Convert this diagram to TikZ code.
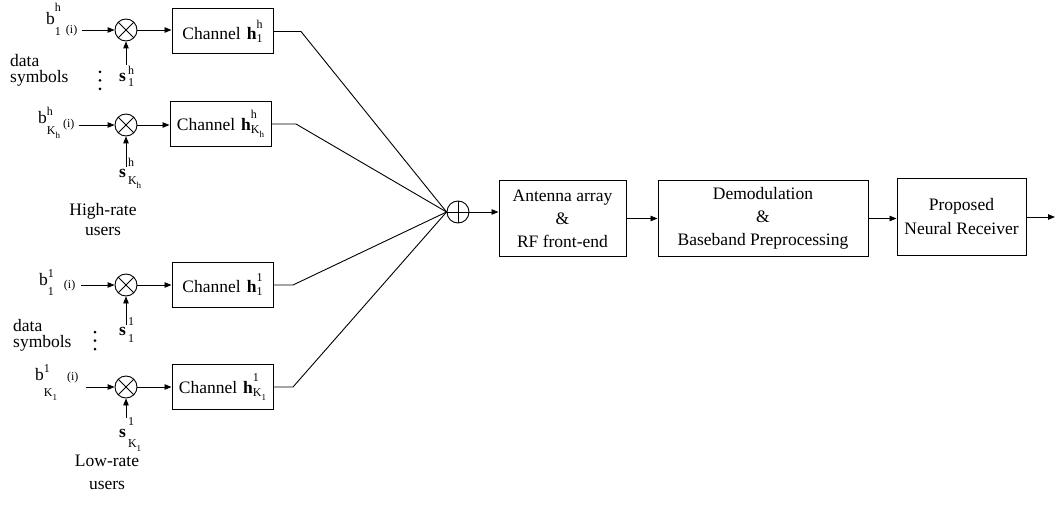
\documentclass[tikz,border=0pt]{standalone}
\usepackage{fontspec}
\setmainfont{Liberation Serif}
\usetikzlibrary{arrows.meta,calc}
\newcommand{\scrf}{\fontsize{12}{12}\selectfont}
\newcommand{\sscrf}{\fontsize{9}{9}\selectfont}
\newcommand{\supsubx}[5]{#1\rlap{\raisebox{#4}{\scrf #2}}\raisebox{#5}{\scrf #3}}
\newcommand{\Kh}{K\raisebox{-4pt}{\sscrf h}}
\newcommand{\Kl}{K\raisebox{-4pt}{\sscrf 1}}
\begin{document}
\begin{tikzpicture}[x=1pt,y=-1pt,
  every node/.style={font=\fontsize{17.5}{21}\selectfont, inner sep=0pt},
  conn/.style={line width=0.9pt},
  arr/.style={conn,-{Triangle[length=7pt,width=5.5pt]}},
  chbox/.style={draw,line width=1pt,minimum width=101pt,minimum height=45pt},
  bigbox/.style={draw,line width=1pt,align=center,font=\fontsize{17.5}{23}\selectfont},
  mult/.style={circle,draw,line width=0.9pt,minimum size=22pt,
    path picture={\draw[line width=0.9pt] (path picture bounding box.north west)--(path picture bounding box.south east)
      (path picture bounding box.north east)--(path picture bounding box.south west);}},
  summ/.style={circle,draw,line width=0.9pt,minimum size=22pt,
    path picture={\draw[line width=0.9pt] (path picture bounding box.north)--(path picture bounding box.south)
      (path picture bounding box.east)--(path picture bounding box.west);}},
  dotm/.style={circle,fill,minimum size=3pt}
]
\useasboundingbox (0,0) rectangle (1058,508);

% multipliers
\node[mult] (o1) at (126,30) {};
\node[mult] (o2) at (126,125) {};
\node[mult] (o3) at (126,285) {};
\node[mult] (o4) at (126,387) {};

% channel boxes
\node[chbox] (ch1) at (222.5,31.5) {Channel\hspace{6pt}\supsubx{\textbf{h}}{h}{1}{11pt}{-3pt}};
\node[chbox] (ch2) at (220.5,124) {Channel\hspace{6pt}\supsubx{\textbf{h}}{h}{\Kh}{12pt}{-3pt}};
\node[chbox] (ch3) at (222.5,285) {Channel\hspace{6pt}\supsubx{\textbf{h}}{1}{1}{11pt}{-3pt}};
\node[chbox] (ch4) at (222.5,387) {Channel\hspace{6pt}\supsubx{\textbf{h}}{1}{\Kl}{12pt}{-3pt}};

% data inputs
\node[anchor=base west] (b1) at (46,25) {\supsubx{b}{h}{1}{13pt}{-11pt}\hspace{5pt}\raisebox{-8.5pt}{\scrf(i)}};
\node[anchor=base west] (b2) at (38,124) {\supsubx{b}{h}{\Kh}{8pt}{-11pt}\hspace{3pt}\raisebox{-3.5pt}{\scrf(i)}};
\node[anchor=base west] (b3) at (39,285) {\supsubx{b}{1}{1}{8pt}{-10pt}\hspace{10pt}\raisebox{-3.5pt}{\scrf(i)}};
\node[anchor=base west] (b4) at (35,380) {\supsubx{b}{1}{\Kl}{8pt}{-16pt}\hspace{10pt}{\scrf(i)}};

\draw[arr] ($(b1.east |- o1.west)+(5,0)$) -- (o1.west);
\draw[arr] ($(b2.east |- o2.west)+(4,0)$) -- (o2.west);
\draw[arr] ($(b3.east |- o3.west)+(6,0)$) -- (o3.west);
\draw[arr] ($(b4.east |- o4.west)+(7,0)$) -- (o4.west);

% spreading codes
\node[anchor=base west] (s1) at (119,82) {\textbf{s}\kern2pt\supsubx{}{h}{1}{7pt}{-5pt}};
\node[anchor=base west] (s2) at (119,178) {\textbf{s}\kern2pt\supsubx{}{h}{\Kh}{11pt}{-7pt}};
\node[anchor=base west] (s3) at (119,335) {\textbf{s}\kern2pt\supsubx{}{1}{1}{10pt}{-7pt}};
\node[anchor=base west] (s4) at (119,437) {\textbf{s}\kern2pt\supsubx{}{1}{\Kl}{12pt}{-10pt}};
\coordinate (t1) at (126,65);
\coordinate (t2) at (126,167);
\coordinate (t3) at (126,325);
\coordinate (t4) at (126,418);
\draw[arr] (t1) -- (o1.south);
\draw[arr] (t2) -- (o2.south);
\draw[arr] (t3) -- (o3.south);
\draw[arr] (t4) -- (o4.south);

% multiplier -> channel
\draw[arr] (o1.east) -- (o1.east -| ch1.west);
\draw[arr] (o2.east) -- (o2.east -| ch2.west);
\draw[arr] (o3.east) -- (o3.east -| ch3.west);
\draw[arr] (o4.east) -- (o4.east -| ch4.west);

% labels
\node[dotm] (d1) at (100,72) {};
\node[dotm] (d2) at (100,80.5) {};
\node[dotm] (d3) at (100,89) {};
\node[dotm] (d4) at (95,332) {};
\node[dotm] (d5) at (95,340.5) {};
\node[dotm] (d6) at (95,349) {};
\node[anchor=north west,align=left,font=\fontsize{17.5}{16}\selectfont] (ds1) at (10,54) {data\\symbols};
\node[anchor=north west,align=left,font=\fontsize{17.5}{16}\selectfont] (ds2) at (13,319) {data\\symbols};
\node[anchor=north,align=center,font=\fontsize{17.5}{20}\selectfont] (hr) at (103,203) {High-rate\\users};
\node[anchor=north,align=center,font=\fontsize{17.5}{23}\selectfont] (lr) at (107,455) {Low-rate\\users};

% summation
\node[summ] (sum) at (458,212) {};
\coordinate (k1) at (301,31.5);
\coordinate (k2) at (296,124);
\coordinate (k3) at (293,285);
\coordinate (k4) at (293,387);
\draw[conn] (ch1.east) -- (k1) -- (sum.west);
\draw[conn] (ch2.east) -- (k2) -- (sum.west);
\draw[conn] (ch3.east) -- (k3) -- (sum.west);
\draw[conn] (ch4.east) -- (k4) -- (sum.west);

% receiver chain
\node[bigbox,minimum width=127pt,minimum height=75pt] (ant) at (562.5,218.5) {Antenna array\\\&\\RF front-end};
\node[bigbox,minimum width=210pt,minimum height=75pt] (dem) at (763,218.5) {Demodulation\\\&\\Baseband Preprocessing};
\node[bigbox,minimum width=129pt,minimum height=76pt,font=\fontsize{17.5}{24}\selectfont] (prop) at (961.5,217) {Proposed\\Neural Receiver};
\coordinate (out) at (1055,217);
\draw[arr] (sum.east) -- (sum.east -| ant.west);
\draw[arr] (ant.east) -- (dem.west);
\draw[arr] (dem.east) -- (dem.east -| prop.west);
\draw[arr] (prop.east |- out) -- (out);
\end{tikzpicture}
\end{document}
